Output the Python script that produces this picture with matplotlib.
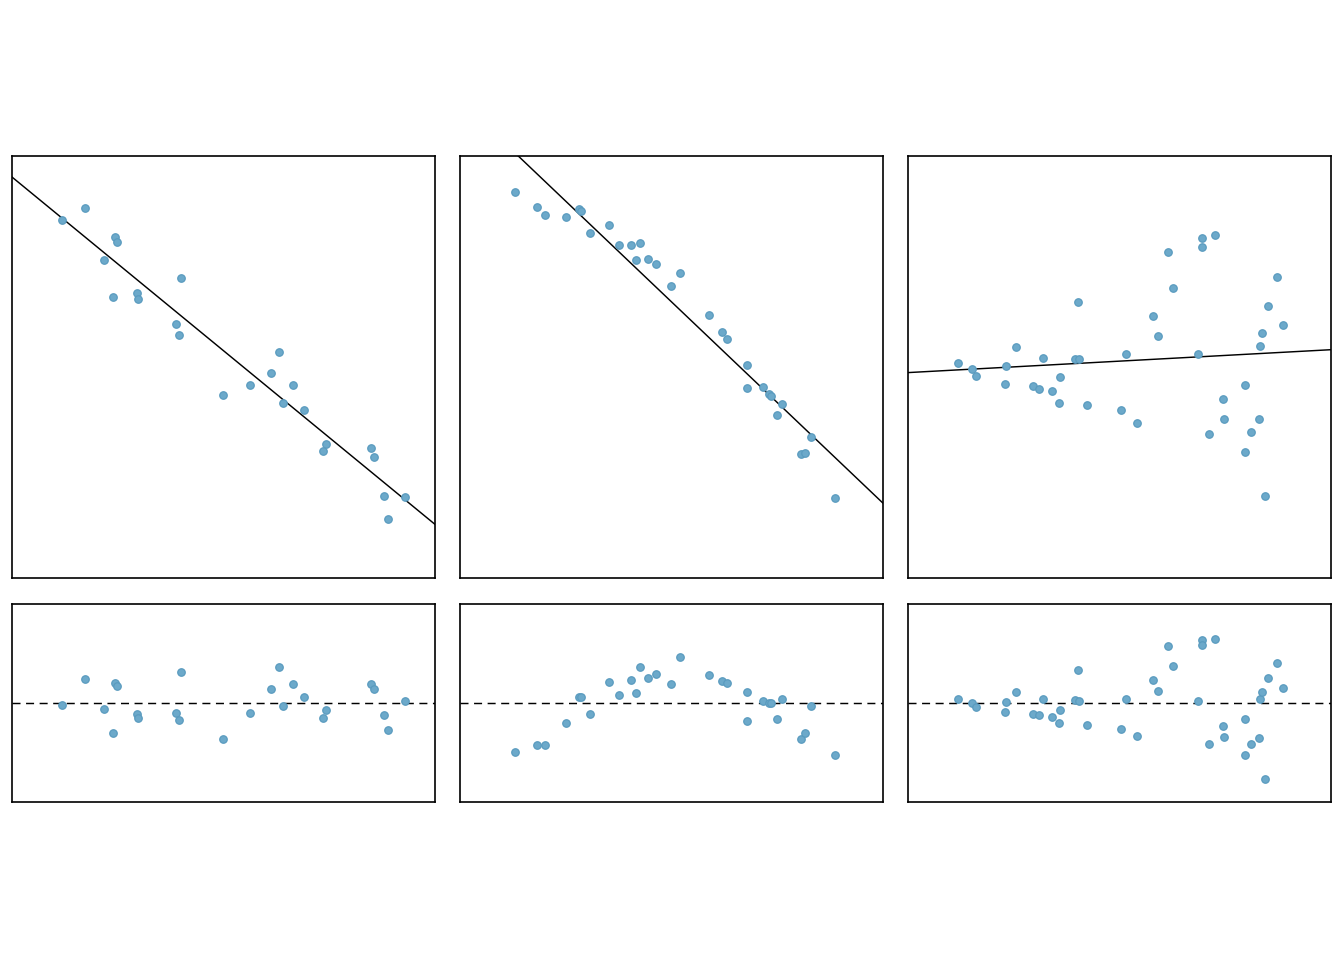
import numpy as np
import matplotlib
matplotlib.use("Agg")
import matplotlib.pyplot as plt

# ---- data (units: percent of panel width/height) ----
x1 = [11.74, 17.26, 24.27, 24.74, 21.67, 23.80, 29.47, 29.71, 39.87, 38.69,
      39.40, 49.80, 56.19, 63.04, 61.23, 66.35, 63.99, 68.95, 74.15, 73.44,
      84.79, 85.58, 87.86, 92.83, 88.81]
y1 = [84.86, 87.70, 80.84, 79.65, 75.39, 66.64, 67.59, 66.17, 71.14, 60.25,
      57.65, 43.45, 45.82, 53.63, 48.66, 45.82, 41.56, 39.91, 31.86, 30.21,
      30.91, 28.79, 19.32, 19.09, 13.96]

x2 = [12.92, 18.12, 20.02, 24.98, 28.05, 28.61, 30.65, 35.15, 37.51, 40.50,
      42.47, 41.53, 44.37, 46.26, 51.93, 49.80, 58.79, 61.86, 63.04, 67.77,
      67.77, 71.55, 72.97, 73.44, 76.04, 74.86, 82.90, 80.54, 81.48, 88.57]
y2 = [91.48, 87.93, 86.04, 85.57, 87.46, 87.07, 81.78, 83.68, 78.94, 78.94,
      79.42, 75.39, 75.63, 74.45, 72.32, 69.24, 62.38, 58.36, 56.70, 50.55,
      45.11, 45.35, 43.53, 43.14, 41.32, 38.72, 33.52, 29.50, 29.73, 18.85]

x3 = [11.74, 15.05, 16.00, 23.09, 22.85, 25.45, 31.84, 29.63, 30.89, 33.96,
      35.85, 35.62, 39.40, 40.35, 40.11, 42.24, 51.46, 50.35, 54.06, 57.84,
      59.02, 61.47, 62.57, 68.48, 69.42, 69.42, 72.58, 71.08, 74.39, 74.63,
      79.59, 79.59, 81.01, 82.90, 83.14, 83.61, 85.03, 87.16, 88.57, 84.32]
y3 = [51.03, 49.45, 47.95, 50.32, 46.06, 54.81, 52.21, 45.58, 44.87, 44.40,
      47.71, 41.56, 51.97, 51.97, 65.46, 41.09, 53.15, 39.91, 36.83, 62.15,
      57.41, 77.29, 68.77, 53.15, 80.60, 78.47, 81.31, 34.23, 42.51, 37.78,
      45.82, 29.97, 34.70, 37.78, 55.05, 58.12, 64.51, 71.37, 60.02, 19.32]

datasets = [(x1, y1), (x2, y2), (x3, y3)]
resid_half_range = [28.9, 18.8, 44.1]

# ---- style ----
pt_face = "#6ca9ca"
pt_edge = "#5a9bbf"

fig = plt.figure(figsize=(13.44, 9.6), dpi=100)
W, H = 1344.0, 960.0
col_left = [12, 460, 908]
col_w = 423
top_box = (156, 578)
bot_box = (604, 802)

for i, (xs, ys) in enumerate(datasets):
    xs = np.array(xs)
    ys = np.array(ys)
    b, a = np.polyfit(xs, ys, 1)
    res = ys - (a + b * xs)

    left = col_left[i] / W
    w = col_w / W
    ax = fig.add_axes([left, (H - top_box[1]) / H, w, (top_box[1] - top_box[0]) / H])
    ax.set_xlim(0, 100)
    ax.set_ylim(0, 100)
    xx = np.array([0, 100])
    ax.plot(xx, a + b * xx, color="black", lw=1.05, zorder=2)
    ax.scatter(xs, ys, s=29, facecolor=pt_face, edgecolor=pt_edge, linewidths=0.9, zorder=3)

    axr = fig.add_axes([left, (H - bot_box[1]) / H, w, (bot_box[1] - bot_box[0]) / H])
    axr.set_xlim(0, 100)
    hr = resid_half_range[i]
    axr.set_ylim(-hr, hr)
    axr.axhline(0, color="black", lw=1.05, dashes=(5.5, 3.8), zorder=2)
    axr.scatter(xs, res, s=29, facecolor=pt_face, edgecolor=pt_edge, linewidths=0.9, zorder=3)

    for a_ in (ax, axr):
        a_.set_xticks([])
        a_.set_yticks([])
        for sp in a_.spines.values():
            sp.set_linewidth(1.2)
            sp.set_color("black")

fig.savefig("out.png", dpi=100, facecolor="white")
